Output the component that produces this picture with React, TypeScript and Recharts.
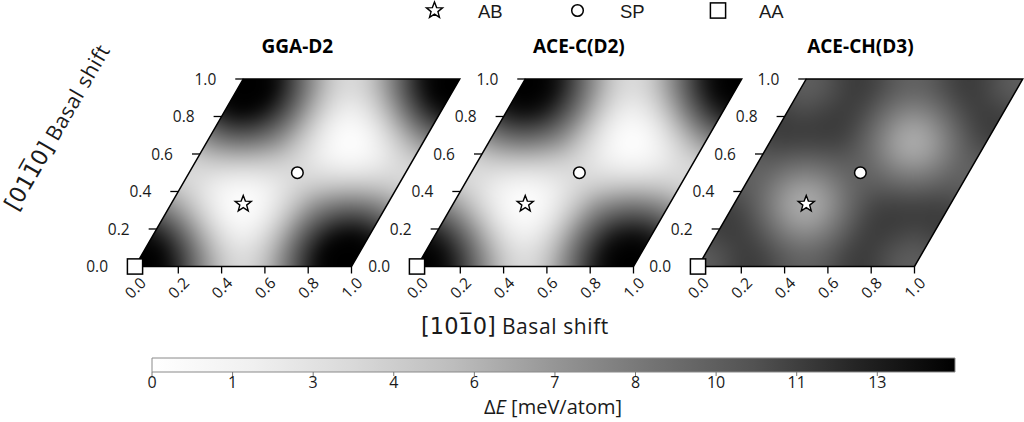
import React from 'react';
import { ScatterChart, Scatter, XAxis, YAxis, ReferenceArea } from 'recharts';

// ---------------- data ----------------
const panelTitles = ['GGA-D2', 'ACE-C(D2)', 'ACE-CH(D3)'];

// Energy (meV/atom) on a 12x12 grid of fractional shifts, rows = [01-10] index, cols = [10-10] index
const gridGGA_D2: number[][] = [
  [14, 14, 13.3, 10.4, 7.1, 4.4, 3.4, 4.4, 7.1, 10.4, 13.3, 14],
  [14, 13.9, 11.4, 8.2, 5.1, 3.2, 3.2, 5.1, 8.2, 11.4, 13.9, 14],
  [13.3, 11.4, 8.6, 5.4, 2.8, 1.7, 2.8, 5.4, 8.6, 11.4, 13.3, 13.9],
  [10.4, 8.2, 5.4, 2.6, 0.8, 0.8, 2.6, 5.4, 8.2, 10.4, 11.4, 11.4],
  [7.1, 5.1, 2.8, 0.8, 0, 0.8, 2.8, 5.1, 7.1, 8.2, 8.6, 8.2],
  [4.4, 3.2, 1.7, 0.8, 0.8, 1.7, 3.2, 4.4, 5.1, 5.4, 5.4, 5.1],
  [3.4, 3.2, 2.8, 2.6, 2.8, 3.2, 3.4, 3.2, 2.8, 2.6, 2.8, 3.2],
  [4.4, 5.1, 5.4, 5.4, 5.1, 4.4, 3.2, 1.7, 0.8, 0.8, 1.7, 3.2],
  [7.1, 8.2, 8.6, 8.2, 7.1, 5.1, 2.8, 0.8, 0, 0.8, 2.8, 5.1],
  [10.4, 11.4, 11.4, 10.4, 8.2, 5.4, 2.6, 0.8, 0.8, 2.6, 5.4, 8.2],
  [13.3, 13.9, 13.3, 11.4, 8.6, 5.4, 2.8, 1.7, 2.8, 5.4, 8.6, 11.4],
  [14, 14, 13.9, 11.4, 8.2, 5.1, 3.2, 3.2, 5.1, 8.2, 11.4, 13.9],
];

const gridACE_C: number[][] = [
  [14, 14, 12.9, 10.2, 7.0, 4.3, 3.3, 4.3, 7.0, 10.2, 12.9, 14],
  [14, 13.5, 11.1, 8.0, 5.0, 3.1, 3.1, 5.0, 8.0, 11.1, 13.5, 14],
  [12.9, 11.1, 8.4, 5.3, 2.7, 1.7, 2.7, 5.3, 8.4, 11.1, 12.9, 13.5],
  [10.2, 8.0, 5.3, 2.5, 0.8, 0.8, 2.5, 5.3, 8.0, 10.2, 11.1, 11.1],
  [7.0, 5.0, 2.7, 0.8, 0, 0.8, 2.7, 5.0, 7.0, 8.0, 8.4, 8.0],
  [4.3, 3.1, 1.7, 0.8, 0.8, 1.7, 3.1, 4.3, 5.0, 5.3, 5.3, 5.0],
  [3.3, 3.1, 2.7, 2.5, 2.7, 3.1, 3.3, 3.1, 2.7, 2.5, 2.7, 3.1],
  [4.3, 5.0, 5.3, 5.3, 5.0, 4.3, 3.1, 1.7, 0.8, 0.8, 1.7, 3.1],
  [7.0, 8.0, 8.4, 8.0, 7.0, 5.0, 2.7, 0.8, 0, 0.8, 2.7, 5.0],
  [10.2, 11.1, 11.1, 10.2, 8.0, 5.3, 2.5, 0.8, 0.8, 2.5, 5.3, 8.0],
  [12.9, 13.5, 12.9, 11.1, 8.4, 5.3, 2.7, 1.7, 2.7, 5.3, 8.4, 11.1],
  [14, 14, 13.5, 11.1, 8.0, 5.0, 3.1, 3.1, 5.0, 8.0, 11.1, 13.5],
];

const gridACE_CH: number[][] = [
  [9.7, 10.1, 11.0, 11.4, 11.0, 10.1, 9.7, 10.1, 11.0, 11.4, 11.0, 10.1],
  [10.1, 10.7, 11.3, 11.1, 10.1, 9.3, 9.3, 10.1, 11.1, 11.3, 10.7, 10.1],
  [11.0, 11.3, 11.0, 9.8, 8.4, 7.8, 8.4, 9.8, 11.0, 11.3, 11.0, 10.7],
  [11.4, 11.1, 9.8, 8.0, 6.6, 6.6, 8.0, 9.8, 11.1, 11.4, 11.3, 11.3],
  [11.0, 10.1, 8.4, 6.6, 5.9, 6.6, 8.4, 10.1, 11.0, 11.1, 11.0, 11.1],
  [10.1, 9.3, 7.8, 6.6, 6.6, 7.8, 9.3, 10.1, 10.1, 9.8, 9.8, 10.1],
  [9.7, 9.3, 8.4, 8.0, 8.4, 9.3, 9.7, 9.3, 8.4, 8.0, 8.4, 9.3],
  [10.1, 10.1, 9.8, 9.8, 10.1, 10.1, 9.3, 7.8, 6.6, 6.6, 7.8, 9.3],
  [11.0, 11.1, 11.0, 11.1, 11.0, 10.1, 8.4, 6.6, 5.9, 6.6, 8.4, 10.1],
  [11.4, 11.3, 11.3, 11.4, 11.1, 9.8, 8.0, 6.6, 6.6, 8.0, 9.8, 11.1],
  [11.0, 10.7, 11.0, 11.3, 11.0, 9.8, 8.4, 7.8, 8.4, 9.8, 11.0, 11.3],
  [10.1, 10.1, 10.7, 11.3, 11.1, 10.1, 9.3, 9.3, 10.1, 11.1, 11.3, 10.7],
];

const panelGrids = [gridGGA_D2, gridACE_C, gridACE_CH];

const xTickValues = [0, 0.2, 0.4, 0.6, 0.8, 1.0];
const yTickValues = [0, 0.2, 0.4, 0.6, 0.8, 1.0];

const siteNames = ['AB', 'SP', 'AA'];
const siteU = [1 / 3, 0.5, 0];
const siteV = [1 / 3, 0.5, 0];

const cbarTicks = [0, 1.4, 2.8, 4.2, 5.6, 7.0, 8.4, 9.8, 11.2, 12.6];
const cbarLabels = ['0', '1', '3', '4', '6', '7', '8', '10', '11', '13'];
const E_MAX = 13.95;

// ---------------- styling / layout ----------------
const FONT = "'Open Sans', 'DejaVu Sans', sans-serif";
const S3 = Math.sqrt(3) / 2;
const N = 12;
const UNIT = 216.5;
const PLOT_W = 1.5 * UNIT;
const PLOT_H = S3 * UNIT;
const ML = 60, MT = 10, MR = 2, XH = 45;
const CW = ML + PLOT_W + MR;
const CH = MT + PLOT_H + XH;
const PANEL_LEFT = [135, 416.5, 698];
const PANEL_TOP = 78.5;

const GREY_LEVELS = [255, 240, 217, 189, 150, 115, 82, 37, 0];
function greys(t: number): string {
  const tt = Math.max(0, Math.min(1, t));
  const s = tt * 8;
  const i = Math.min(7, Math.floor(s));
  const f = s - i;
  const g = Math.round(GREY_LEVELS[i] + (GREY_LEVELS[i + 1] - GREY_LEVELS[i]) * f);
  return `rgb(${g},${g},${g})`;
}

function buildCells(grid: number[][]) {
  const out: { x: number; y: number; e: number }[] = [];
  for (let j = -3; j <= N + 2; j++) {
    for (let i = -3; i <= N + 2; i++) {
      const e = grid[((j % N) + N) % N][((i % N) + N) % N];
      const u = i / N;
      const v = j / N;
      out.push({ x: u + v / 2, y: v * S3, e });
    }
  }
  return out;
}

const yTickPts = yTickValues.map((v) => ({ x: v / 2, y: v * S3, v }));
const sitePts = siteNames.map((name, k) => ({ x: siteU[k] + siteV[k] / 2, y: siteV[k] * S3, name }));

const CELL = UNIT / N;
const HeatCell = (p: any) => {
  const { cx, cy, payload } = p;
  const g = 1.08;
  const ax = (CELL / 2) * g;
  const bx = (CELL / 4) * g;
  const by = -(CELL * S3 / 2) * g;
  const pts = [
    [cx - ax - bx, cy - by],
    [cx + ax - bx, cy - by],
    [cx + ax + bx, cy + by],
    [cx - ax + bx, cy + by],
  ]
    .map((q) => q.join(','))
    .join(' ');
  return <polygon points={pts} fill={greys(payload.e / E_MAX)} stroke="none" />;
};

function rhombusPts(x: number, y: number, w: number, h: number) {
  return `${x},${y + h} ${x + w / 1.5},${y + h} ${x + w},${y} ${x + w / 3},${y}`;
}

const clipShape = (id: string) => (p: any) => (
  <clipPath id={id}>
    <polygon points={rhombusPts(p.x, p.y, p.width, p.height)} />
  </clipPath>
);

const borderShape = (p: any) => (
  <polygon points={rhombusPts(p.x, p.y, p.width, p.height)} fill="none" stroke="#000" strokeWidth={1.5} strokeLinejoin="miter" />
);

function starPoints(cx: number, cy: number, R: number, r: number) {
  const pts: string[] = [];
  for (let k = 0; k < 10; k++) {
    const rad = k % 2 === 0 ? R : r;
    const a = -Math.PI / 2 + (k * Math.PI) / 5;
    pts.push(`${cx + rad * Math.cos(a)},${cy + rad * Math.sin(a)}`);
  }
  return pts.join(' ');
}

function markerGlyph(name: string, cx: number, cy: number) {
  if (name === 'AB')
    return <polygon points={starPoints(cx, cy, 8.5, 3.6)} fill="#fff" stroke="#000" strokeWidth={1.4} strokeLinejoin="miter" />;
  if (name === 'SP') return <circle cx={cx} cy={cy} r={5.8} fill="#fff" stroke="#000" strokeWidth={1.5} />;
  return <rect x={cx - 7.6} y={cy - 7.6} width={15.2} height={15.2} fill="#fff" stroke="#000" strokeWidth={1.5} />;
}

const SiteMarker = (p: any) => markerGlyph(p.payload.name, p.cx, p.cy);

const YTickMark = (p: any) => {
  const { cx, cy, payload } = p;
  return (
    <g>
      <line x1={cx - 8} y1={cy} x2={cx} y2={cy} stroke="#000" strokeWidth={1.3} />
      <text x={cx - 27} y={cy} textAnchor="end" dominantBaseline="central" fontSize={15.5} fontFamily={FONT} fill="#1a1a1a">
        {payload.v.toFixed(1)}
      </text>
    </g>
  );
};

const XTick = (p: any) => {
  const { x, y, payload } = p;
  const cy = y + 12;
  return (
    <text x={x} y={cy} textAnchor="middle" dominantBaseline="central" transform={`rotate(-45 ${x} ${cy})`} fontSize={15.5} fontFamily={FONT} fill="#1a1a1a">
      {Number(payload.value).toFixed(1)}
    </text>
  );
};

function Panel({ k }: { k: number }) {
  const cells = buildCells(panelGrids[k]);
  return (
    <div style={{ position: 'absolute', left: PANEL_LEFT[k] - ML, top: PANEL_TOP - MT }}>
      <ScatterChart width={CW} height={CH} margin={{ top: MT, right: MR, bottom: 0, left: ML }}>
        <XAxis xAxisId="h" type="number" dataKey="x" domain={[0, 1.5]} allowDataOverflow hide height={0} />
        <YAxis yAxisId="h" type="number" dataKey="y" domain={[0, S3]} allowDataOverflow hide width={0} />
        <XAxis
          xAxisId="m"
          type="number"
          dataKey="x"
          domain={[0, 1.5]}
          ticks={xTickValues}
          interval={0}
          height={XH}
          axisLine={false}
          tickSize={7}
          tickLine={{ stroke: '#000', strokeWidth: 1.3 }}
          tick={XTick}
        />
        <YAxis yAxisId="m" type="number" dataKey="y" domain={[0, S3]} hide width={0} />
        <ReferenceArea xAxisId="m" yAxisId="m" x1={0} x2={1.5} y1={0} y2={S3} shape={clipShape(`rh${k}`)} />
        <Scatter xAxisId="h" yAxisId="h" data={cells} shape={HeatCell} className={`heat${k}`} isAnimationActive={false} />
        <ReferenceArea xAxisId="m" yAxisId="m" x1={0} x2={1.5} y1={0} y2={S3} shape={borderShape} zIndex={700} />
        <Scatter xAxisId="m" yAxisId="m" data={yTickPts} shape={YTickMark} isAnimationActive={false} zIndex={800} />
        <Scatter xAxisId="m" yAxisId="m" data={sitePts} shape={SiteMarker} isAnimationActive={false} zIndex={900} />
      </ScatterChart>
    </div>
  );
}

const CB_LEFT = 152;
const CB_RIGHT = 955;
const CB_TOP = 358;
const CB_H = 14;
const CB_ML = 52;
const CB_W = 900;

function ColorBar() {
  const pts = cbarTicks.map((t) => ({ x: t, y: 0.5 }));
  return (
    <div style={{ position: 'absolute', left: CB_LEFT - CB_ML, top: CB_TOP - 8 }}>
      <ScatterChart width={CB_W} height={8 + CB_H + 30} margin={{ top: 8, right: CB_W - CB_ML - (CB_RIGHT - CB_LEFT), bottom: 0, left: CB_ML }}>
        <XAxis
          type="number"
          dataKey="x"
          domain={[0, E_MAX]}
          ticks={cbarTicks}
          interval={0}
          height={30}
          axisLine={false}
          tickSize={4}
          tickMargin={1}
          tickLine={{ stroke: '#777', strokeWidth: 1 }}
          tick={{ fill: '#1a1a1a', fontSize: 16, fontFamily: FONT }}
          tickFormatter={(v: number, i: number) => cbarLabels[i]}
        />
        <YAxis type="number" dataKey="y" domain={[0, 1]} hide width={0} />
        <ReferenceArea x1={0} x2={E_MAX} y1={0} y2={1} fill="url(#greysGrad)" fillOpacity={1} stroke="#8a8a8a" strokeWidth={1} />
        <Scatter data={pts} shape={() => <g />} isAnimationActive={false} />
      </ScatterChart>
    </div>
  );
}

function Overlay() {
  const legendItems = [
    { name: 'AB', mx: 434.5, tx: 478 },
    { name: 'SP', mx: 577.5, tx: 620 },
    { name: 'AA', mx: 718, tx: 759 },
  ];
  return (
    <svg width={1024} height={422} style={{ position: 'absolute', left: 0, top: 0, pointerEvents: 'none' }}>
      <defs>
        <filter id="blurH" x="-10%" y="-10%" width="120%" height="120%" colorInterpolationFilters="sRGB">
          <feGaussianBlur stdDeviation={8} />
        </filter>
        <linearGradient id="greysGrad" x1="0" y1="0" x2="1" y2="0">
          {GREY_LEVELS.map((g, i) => (
            <stop key={i} offset={i / 8} stopColor={`rgb(${g},${g},${g})`} />
          ))}
        </linearGradient>
      </defs>
      {legendItems.map((it) => (
        <g key={it.name}>
          {markerGlyph(it.name, it.mx, 10.5)}
          <text x={it.tx} y={18} fontSize={18.5} fontFamily="'Liberation Sans', Arial, sans-serif" fill="#1a1a1a">
            {it.name}
          </text>
        </g>
      ))}
      {panelTitles.map((t, k) => (
        <text key={t} x={PANEL_LEFT[k] + 0.75 * UNIT} y={53} textAnchor="middle" fontSize={19} fontWeight={700} fontFamily={FONT} fill="#000">
          {t}
        </text>
      ))}
      <text x={515} y={334} textAnchor="middle" fill="#1a1a1a">
        <tspan fontFamily="'DejaVu Sans'" fontSize={22.5}>{'[101\u03050]'}</tspan>
        <tspan fontFamily={FONT} fontSize={21} letterSpacing={0.6}>{' Basal shift'}</tspan>
      </text>
      <text x={57} y={127} textAnchor="middle" dominantBaseline="central" transform="rotate(-60 57 127)" fill="#1a1a1a">
        <tspan fontFamily="'DejaVu Sans'" fontSize={22.5}>{'[011\u03050]'}</tspan>
        <tspan fontFamily={FONT} fontSize={21} letterSpacing={0.6}>{' Basal shift'}</tspan>
      </text>
      <text x={553} y={414} textAnchor="middle" fill="#1a1a1a" fontFamily={FONT} fontSize={20}>
        <tspan>{'\u0394'}</tspan>
        <tspan fontStyle="italic">E</tspan>
        <tspan>{' [meV/atom]'}</tspan>
      </text>
    </svg>
  );
}

export default function App() {
  return (
    <div style={{ position: 'absolute', left: 0, top: 0, width: 1024, height: 422, overflow: 'hidden', background: '#fff' }}>
      <style>{`.heat0{filter:url(#blurH);clip-path:url(#rh0);} .heat1{filter:url(#blurH);clip-path:url(#rh1);} .heat2{filter:url(#blurH);clip-path:url(#rh2);}`}</style>
      {[0, 1, 2].map((k) => (
        <Panel key={k} k={k} />
      ))}
      <ColorBar />
      <Overlay />
    </div>
  );
}
